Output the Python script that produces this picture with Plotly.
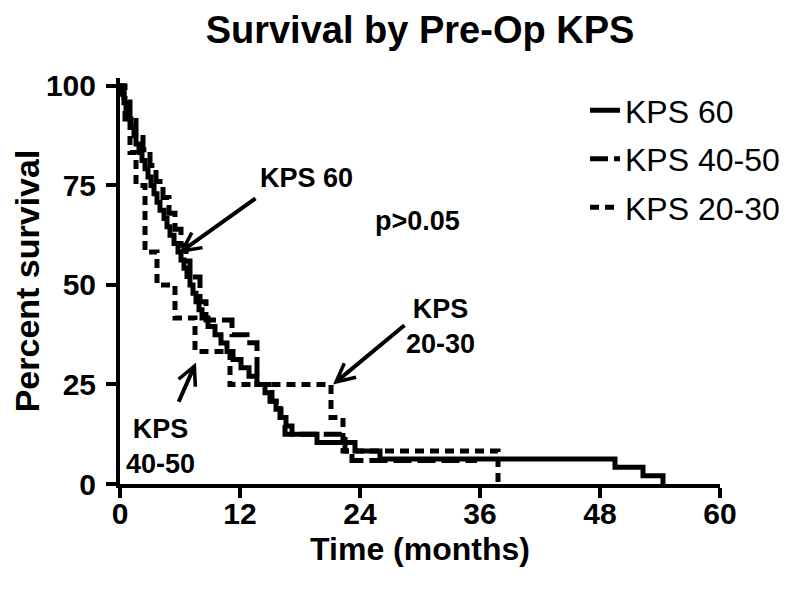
import plotly.graph_objects as go

# ---- data (Kaplan-Meier step curves, percent survival) ----
kps60_t = [0, 0.2, 0.4, 0.6, 0.8, 1.1, 1.4, 1.6, 1.9, 2.2, 2.5, 2.8, 3.1, 3.4, 3.7, 4.0,
           4.4, 4.7, 5.0, 5.4, 5.8, 6.1, 6.4, 6.7, 7.0, 7.3, 7.6, 7.9, 8.2, 8.8, 9.5, 10.1,
           10.7, 11.3, 12.1, 12.9, 13.7, 14.5, 15.0, 15.6, 16.1, 16.6, 17.2, 19.7, 23.5,
           26.0, 49.5, 52.3, 54.3]
kps60_s = [100, 97.9, 95.8, 93.8, 91.7, 89.6, 87.5, 85.4, 83.3, 81.3, 79.2, 77.1, 75.0, 72.9,
           70.8, 68.8, 66.7, 64.6, 62.5, 60.4, 58.3, 56.3, 54.2, 52.1, 50.0, 47.9, 45.8, 43.8,
           41.7, 39.6, 37.5, 35.4, 33.3, 31.3, 29.2, 27.1, 25.0, 22.9, 20.8, 18.8, 16.7, 14.6,
           12.5, 10.4, 8.3, 6.3, 4.2, 2.1, 0]

kps4050_t = [0, 0.4, 1.0, 1.6, 2.3, 3.0, 3.6, 4.3, 4.9, 5.5, 6.1, 6.6, 7.0, 8.0, 8.6, 11.2,
             12.7, 13.7, 15.2, 16.0, 16.5, 22.5, 23.2, 35.7]
kps4050_s = [100, 96, 92, 88, 84, 80, 76, 72, 68, 64, 60, 56, 52, 45.8, 41.2, 37.5,
             35.5, 25, 20.8, 16.7, 12.5, 8.3, 5.9, 5.9]

kps2030_t = [0, 0.5, 1.0, 1.6, 2.5, 3.7, 5.5, 7.5, 11.0, 21.1, 22.3, 37.8]
kps2030_s = [100, 91.7, 83.3, 75.0, 58.3, 50.0, 41.7, 33.3, 25.0, 16.7, 8.3, 0]

x_ticks = [0, 12, 24, 36, 48, 60]
y_ticks = [0, 25, 50, 75, 100]

FONT = "Liberation Sans, Arial, sans-serif"

fig = go.Figure()
fig.add_trace(go.Scatter(x=kps60_t, y=kps60_s, mode="lines", name="KPS 60", legendgroup="a",
                         line=dict(shape="hv", color="black", width=5)))
fig.add_trace(go.Scatter(x=kps4050_t, y=kps4050_s, mode="lines", name="KPS 40-50", legendgroup="b",
                         line=dict(shape="hv", color="black", width=5, dash="18px,6px")))
fig.add_trace(go.Scatter(x=kps2030_t, y=kps2030_s, mode="lines", name="KPS 20-30", legendgroup="c",
                         line=dict(shape="hv", color="black", width=5, dash="9px,6px")))

axis_common = dict(showline=True, linewidth=4, linecolor="black", ticks="outside", ticklen=10,
                   tickwidth=4, tickcolor="black", showgrid=False, zeroline=False,
                   automargin=False,
                   tickfont=dict(family=FONT, size=30, color="black", weight="bold"))

fig.update_layout(
    width=800, height=590,
    margin=dict(l=112, r=88, t=70, b=114),
    paper_bgcolor="white", plot_bgcolor="white",
    title=dict(text="Survival by Pre-Op KPS", x=0.5, xref="paper", xanchor="center",
               y=1 - 22 / 590, yref="container", yanchor="middle",
               font=dict(family=FONT, size=38, color="black", weight="bold")),
    xaxis=dict(range=[0, 60], tickvals=x_ticks, ticklabelstandoff=-10, **axis_common,
               title=dict(text="Time (months)", standoff=10,
                          font=dict(family=FONT, size=32, color="black", weight="bold"))),
    yaxis=dict(range=[0, 102], tickvals=y_ticks, ticklabelstandoff=4, **axis_common,
               title=dict(text="Percent survival", standoff=0,
                          font=dict(family=FONT, size=34, color="black", weight="bold"))),
    legend=dict(x=0.775, y=0.988, xanchor="left", yanchor="top", traceorder="grouped",
                tracegroupgap=4, bgcolor="rgba(0,0,0,0)",
                font=dict(family=FONT, size=32, color="black")),
    showlegend=True,
)

ann_font = dict(family=FONT, size=27, color="black", weight="bold")
# text labels
fig.add_annotation(x=18.6, y=76.9, xref="x", yref="y", text="KPS 60", showarrow=False, font=ann_font)
fig.add_annotation(x=29.7, y=66.2, xref="x", yref="y", text="p>0.05", showarrow=False, font=ann_font)
fig.add_annotation(x=32.0, y=39.5, xref="x", yref="y", text="KPS<br>20-30", showarrow=False,
                   font=ann_font, align="center")
fig.add_annotation(x=4.0, y=9.5, xref="x", yref="y", text="KPS<br>40-50", showarrow=False,
                   font=ann_font, align="center")
# arrows
arrow_style = dict(xref="x", yref="y", axref="x", ayref="y", text="", showarrow=True,
                   arrowhead=5, arrowsize=0.9, arrowwidth=4, arrowcolor="black", standoff=0)
fig.add_annotation(x=5.9, y=58.0, ax=13.7, ay=72.0, **arrow_style)
fig.add_annotation(x=7.6, y=30.5, ax=5.8, ay=20.3, **arrow_style)
fig.add_annotation(x=21.3, y=25.0, ax=28.6, ay=40.2, **arrow_style)

fig.write_html("out.html")
